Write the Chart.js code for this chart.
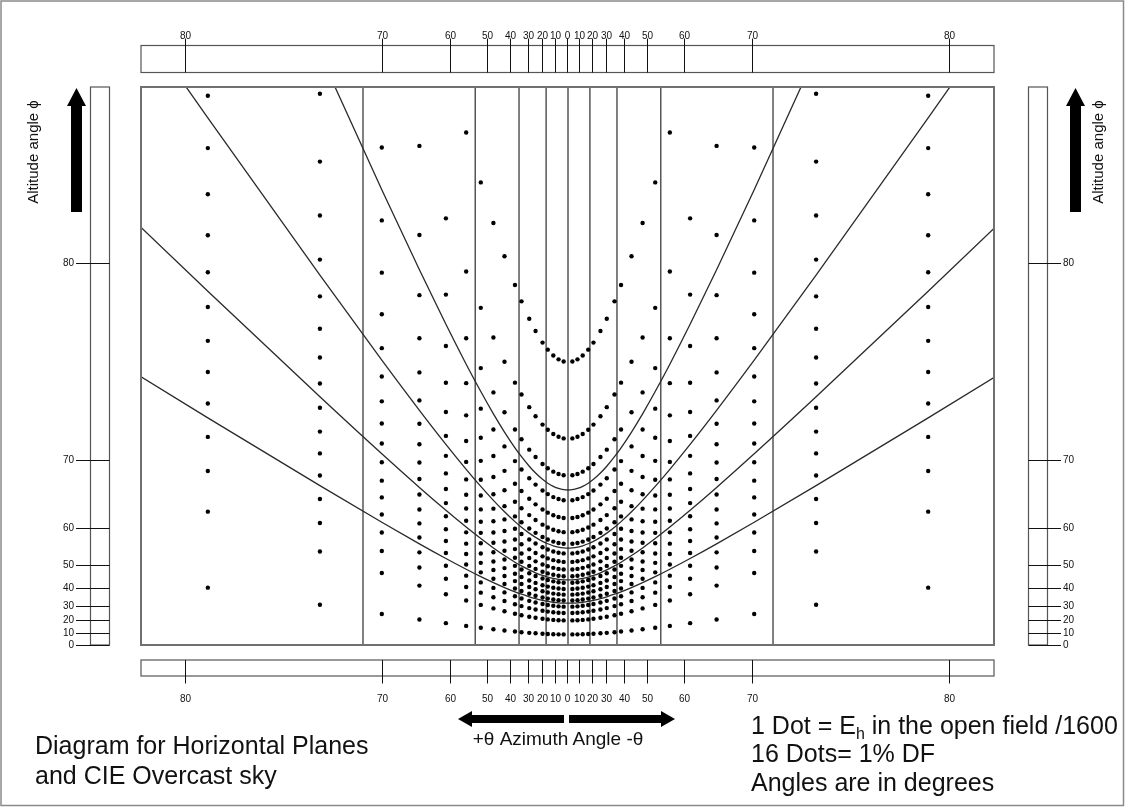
<!DOCTYPE html>
<html lang="en">
<head>
<meta charset="utf-8">
<title>Diagram for Horizontal Planes and CIE Overcast sky</title>
<script src="https://cdn.jsdelivr.net/npm/chart.js@4.4.1/dist/chart.umd.min.js"></script>
<style>
  body { margin: 0; background: #fff; font-family: "Liberation Sans", Arial, sans-serif; }
  #page { position: relative; width: 1125px; height: 807px; overflow: hidden; background: #fff; }
  #page canvas { position: absolute; left: 0; top: 0; }
  .note { position: absolute; font-size: 25px; color: #111; white-space: nowrap; }
  .note sub { font-size: 16px; line-height: 0; vertical-align: -5px; }
  .alt { position: absolute; width: 160px; height: 20px; line-height: 20px; font-size: 15px;
         text-align: center; white-space: nowrap; transform: rotate(-90deg); color: #111; }
</style>
</head>
<body>
<div id="page">
  <canvas id="diagram" width="1125" height="807"></canvas>
  <div class="alt" style="left:-47px; top:142px;">Altitude angle ϕ</div>
  <div class="alt" style="left:1018px; top:142px;">Altitude angle ϕ</div>
  <div style="position:absolute; left:458px; width:200px; top:729px; text-align:center; font-size:19px; line-height:20px; color:#111;">+θ Azimuth Angle -θ</div>
  <div class="note" style="left:35px; top:730px; line-height:30px;">Diagram for Horizontal Planes<br>and CIE Overcast sky</div>
  <div class="note" style="left:751px; top:711px; line-height:28.3px;">1 Dot = E<sub>h</sub> in the open field /1600<br>16 Dots= 1% DF<br>Angles are in degrees</div>
</div>
<script>
// azimuth of each dot column in degrees (same on both sides of the centre line)
const dotAzimuths = [3.7, 8.0, 12.3, 16.7, 20.7, 25.7, 29.9, 34.6, 38.2, 43.3, 47.9, 52.3, 56.5, 61.1, 65.6, 70.1, 74.8, 79.4];
// altitude of each dot row in degrees
const dotAltitudes = [8.9, 20.0, 25.4, 29.6, 33.4, 36.7, 39.7, 42.7, 45.5, 48.2, 50.9, 53.6, 56.3, 59.1, 62.0, 65.0, 68.3, 71.9, 76.6];
// the four curved lines (constant altitude), degrees
const curveAltitudes = [66.5, 55.2, 44.0, 31.8];
// vertical lines, azimuth in degrees
const lineAzimuths = [0, 18, 36, 54, 71.8];
// scale labels
const azimuthTicks = [80, 70, 60, 50, 40, 30, 20, 10, 0];
const altitudeTicks = [0, 10, 20, 30, 40, 50, 60, 70, 80];

const xMin = -6.335, xMax = 6.32, yMax = 8.28;
const rad = (d) => (d * Math.PI) / 180;

// projection of a sky point onto the diagram
function project(az, alt) {
  return { x: Math.tan(rad(az)), y: Math.tan(rad(alt)) / Math.cos(rad(az)) };
}

const dots = [];
dotAzimuths.forEach((az) => {
  [-1, 1].forEach((side) => {
    dotAltitudes.forEach((alt) => {
      const p = project(side * az, alt);
      if (p.y <= yMax) dots.push(p);
    });
  });
});

// curve sample azimuths: centre, dot columns and beyond the edge
const curveAz = [0, ...dotAzimuths, 84];
const curveSets = curveAltitudes.map((alt) => {
  const left = curveAz.slice(1).reverse().map((az) => project(-az, alt));
  const right = curveAz.map((az) => project(az, alt));
  return {
    data: left.concat(right),
    showLine: true,
    pointRadius: 0,
    borderColor: "#2a2a2a",
    borderWidth: 1.3,
    cubicInterpolationMode: "monotone",
    order: 2,
  };
});

const lineSets = [];
lineAzimuths.forEach((az) => {
  (az === 0 ? [1] : [-1, 1]).forEach((side) => {
    const x = side * Math.tan(rad(az));
    lineSets.push({
      data: [{ x: x, y: 0 }, { x: x, y: yMax }],
      showLine: true,
      pointRadius: 0,
      borderColor: "#4a4a4a",
      borderWidth: 1.4,
      order: 3,
    });
  });
});

function arrow(ctx, x0, y0, x1, y1, shaft, head, headLen) {
  const ang = Math.atan2(y1 - y0, x1 - x0);
  const len = Math.hypot(x1 - x0, y1 - y0);
  ctx.save();
  ctx.translate(x0, y0);
  ctx.rotate(ang);
  ctx.beginPath();
  ctx.moveTo(0, -shaft);
  ctx.lineTo(len - headLen, -shaft);
  ctx.lineTo(len - headLen, -head);
  ctx.lineTo(len, 0);
  ctx.lineTo(len - headLen, head);
  ctx.lineTo(len - headLen, shaft);
  ctx.lineTo(0, shaft);
  ctx.closePath();
  ctx.fill();
  ctx.restore();
}

// boxes, scales, frame and arrows around the plot
const diagramFrame = {
  id: "diagramFrame",
  afterDraw(chart) {
    const { ctx, chartArea: a } = chart;
    const sx = chart.scales.x;
    const sy = chart.scales.y;
    ctx.save();

    // plot frame
    ctx.strokeStyle = "#707070";
    ctx.lineWidth = 2;
    ctx.strokeRect(a.left, a.top, a.right - a.left, a.bottom - a.top);

    // azimuth scales, top and bottom
    ctx.strokeStyle = "#555";
    ctx.lineWidth = 1.2;
    ctx.strokeRect(a.left, 45.5, a.right - a.left, 27);
    ctx.strokeRect(a.left, 660, a.right - a.left, 16);
    ctx.fillStyle = "#111";
    ctx.font = "10px 'Liberation Sans', Arial, sans-serif";
    ctx.textAlign = "center";
    ctx.textBaseline = "alphabetic";
    ctx.strokeStyle = "#111";
    ctx.lineWidth = 1;
    azimuthTicks.forEach((az) => {
      (az === 0 ? [1] : [-1, 1]).forEach((side) => {
        const px = Math.round(sx.getPixelForValue(side * Math.tan(rad(az)))) - 0.5;
        ctx.beginPath();
        ctx.moveTo(px, 38.5);
        ctx.lineTo(px, 72.5);
        ctx.moveTo(px, 660);
        ctx.lineTo(px, 683.5);
        ctx.stroke();
        ctx.fillText(String(az), px, 38.5);
        ctx.fillText(String(az), px, 702);
      });
    });

    // altitude scales, left and right
    ctx.strokeStyle = "#555";
    ctx.lineWidth = 1.2;
    ctx.strokeRect(90.5, a.top, 19, a.bottom - a.top);
    ctx.strokeRect(1028.5, a.top, 19, a.bottom - a.top);
    ctx.strokeStyle = "#111";
    ctx.lineWidth = 1;
    ctx.textBaseline = "middle";
    altitudeTicks.forEach((alt) => {
      const py = Math.round(sy.getPixelForValue(Math.tan(rad(alt)))) + 0.5;
      ctx.beginPath();
      ctx.moveTo(76, py);
      ctx.lineTo(109.5, py);
      ctx.moveTo(1028.5, py);
      ctx.lineTo(1061, py);
      ctx.stroke();
      ctx.textAlign = "right";
      ctx.fillText(String(alt), 74, py);
      ctx.textAlign = "left";
      ctx.fillText(String(alt), 1063, py);
    });

    // arrows
    ctx.fillStyle = "#000";
    arrow(ctx, 76.5, 212, 76.5, 88, 5.5, 9.5, 18);
    arrow(ctx, 1075.5, 212, 1075.5, 88, 5.5, 9.5, 18);
    arrow(ctx, 564, 719, 458, 719, 4, 8, 14);
    arrow(ctx, 569, 719, 675, 719, 4, 8, 14);

    // picture border
    ctx.strokeStyle = "#8a8a8a";
    ctx.lineWidth = 1.5;
    ctx.strokeRect(1, 1, 1122.5, 804.5);
    ctx.restore();
  },
};

new Chart(document.getElementById("diagram"), {
  type: "scatter",
  data: {
    datasets: [
      {
        data: dots,
        pointRadius: 2.2,
        pointBackgroundColor: "#000",
        pointBorderWidth: 0,
        order: 1,
      },
      ...curveSets,
      ...lineSets,
    ],
  },
  options: {
    responsive: false,
    animation: false,
    devicePixelRatio: 1,
    layout: { padding: { left: 141, right: 131, top: 87, bottom: 162 } },
    plugins: { legend: { display: false }, tooltip: { enabled: false } },
    events: [],
    scales: {
      x: { type: "linear", min: xMin, max: xMax, display: false },
      y: { type: "linear", min: 0, max: yMax, display: false },
    },
  },
  plugins: [diagramFrame],
});
</script>
</body>
</html>
